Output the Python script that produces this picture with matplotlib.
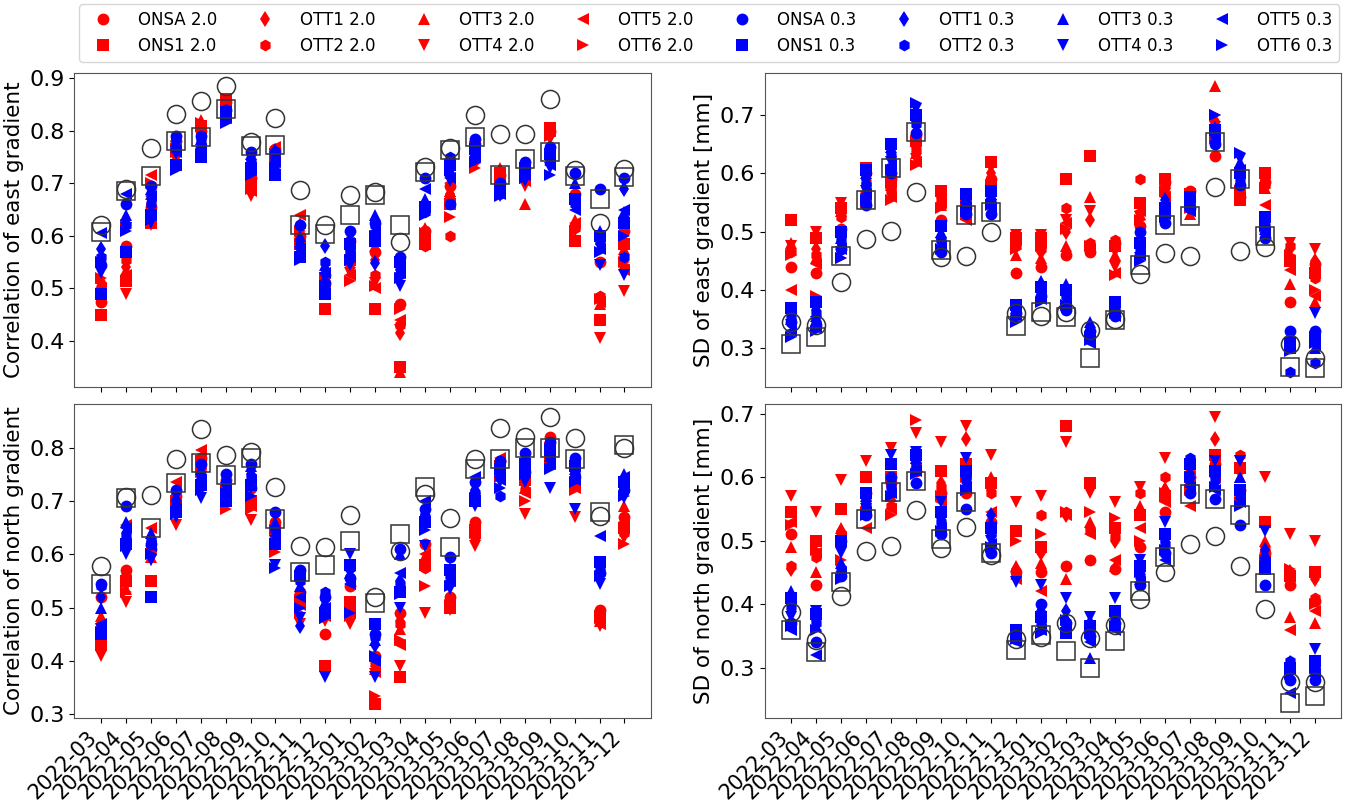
import matplotlib
matplotlib.use("Agg")
import matplotlib.pyplot as plt
import numpy as np

months = ["2022-03", "2022-04", "2022-05", "2022-06", "2022-07", "2022-08",
          "2022-09", "2022-10", "2022-11", "2022-12", "2023-01", "2023-02",
          "2023-03", "2023-04", "2023-05", "2023-06", "2023-07", "2023-08",
          "2023-09", "2023-10", "2023-11", "2023-12"]
stations = ["ONSA", "ONS1", "OTT1", "OTT2", "OTT3", "OTT4", "OTT5", "OTT6"]
markers = ["o", "s", "d", "h", "^", "v", "<", ">"]

# rows = months, columns = stations (same order as `stations`)
east_corr_20 = [
    [.475, .45, .51, .50, .52, .49, .50, .52],
    [.58, .515, .54, .555, .535, .49, .525, .62],
    [.655, .625, .66, .64, .68, .62, .715, .70],
    [.78, .765, .77, .775, .79, .745, .775, .76],
    [.80, .81, .805, .795, .82, .79, .80, .815],
    [.855, .86, .85, .85, .855, .84, .845, .84],
    [.71, .70, .695, .69, .705, .675, .685, .69],
    [.765, .755, .745, .75, .76, .735, .77, .74],
    [.60, .585, .60, .595, .625, .59, .64, .61],
    [.525, .46, .53, .51, .535, .515, .50, .52],
    [.59, .555, .54, .575, .60, .53, .525, .515],
    [.57, .46, .555, .525, .58, .51, .50, .505],
    [.47, .35, .415, .43, .34, .42, .44, .46],
    [.61, .585, .595, .58, .615, .60, .60, .605],
    [.695, .66, .68, .60, .685, .665, .70, .635],
    [.775, .77, .75, .745, .765, .735, .755, .73],
    [.715, .72, .71, .705, .73, .70, .71, .705],
    [.73, .72, .715, .72, .66, .695, .705, .71],
    [.80, .805, .79, .795, .805, .785, .80, .79],
    [.68, .59, .62, .615, .63, .61, .625, .61],
    [.55, .44, .48, .485, .47, .405, .475, .48],
    [.61, .585, .565, .54, .575, .495, .535, .55],
]
east_corr_03 = [
    [.545, .49, .575, .56, .55, .53, .605, .55],
    [.66, .57, .625, .62, .64, .615, .68, .61],
    [.695, .64, .67, .66, .69, .625, .675, .63],
    [.79, .735, .77, .785, .78, .755, .76, .725],
    [.79, .75, .77, .78, .785, .76, .765, .755],
    [.84, .835, .83, .835, .84, .82, .825, .815],
    [.76, .73, .745, .74, .755, .72, .725, .715],
    [.76, .715, .75, .745, .765, .725, .74, .73],
    [.62, .56, .585, .565, .60, .57, .575, .555],
    [.51, .49, .58, .55, .545, .52, .53, .505],
    [.61, .585, .565, .575, .595, .545, .56, .555],
    [.625, .59, .548, .62, .64, .595, .61, .60],
    [.56, .55, .535, .545, .55, .505, .53, .52],
    [.71, .655, .66, .645, .67, .65, .69, .64],
    [.66, .735, .72, .75, .74, .705, .71, .725],
    [.785, .765, .76, .755, .78, .745, .75, .74],
    [.70, .69, .685, .68, .695, .675, .68, .675],
    [.74, .73, .725, .72, .735, .705, .715, .71],
    [.77, .755, .745, .74, .76, .73, .735, .715],
    [.72, .67, .665, .66, .70, .66, .65, .67],
    [.69, .60, .585, .59, .61, .545, .575, .57],
    [.71, .625, .69, .56, .645, .525, .65, .60],
]
east_corr_circle = [.621, .689, .767, .833, .857, .886, .779, .825, .687, .621, .678,
                    .684, .589, .732, .768, .831, .794, .794, .860, .725, .624, .728]
east_corr_square = [.607, .685, .714, .780, .789, .842, .771, .773, .621, .603, .639,
                    .678, .621, .722, .763, .789, .716, .746, .760, .714, .671, .712]

east_sd_20 = [
    [.44, .52, .47, .465, .48, .475, .40, .46],
    [.43, .49, .47, .46, .455, .50, .445, .39],
    [.505, .54, .53, .525, .535, .55, .50, .455],
    [.60, .61, .59, .585, .575, .56, .555, .55],
    [.59, .585, .575, .57, .58, .565, .56, .555],
    [.665, .655, .645, .64, .635, .625, .62, .615],
    [.52, .57, .56, .555, .545, .565, .55, .54],
    [.54, .55, .545, .535, .53, .525, .52, .53],
    [.59, .62, .60, .585, .595, .61, .575, .58],
    [.43, .49, .48, .475, .46, .495, .485, .47],
    [.44, .49, .465, .47, .455, .495, .48, .475],
    [.46, .59, .50, .54, .475, .52, .515, .505],
    [.465, .63, .52, .48, .56, .535, .47, .475],
    [.48, .475, .47, .485, .46, .44, .43, .425],
    [.51, .55, .545, .59, .53, .525, .535, .52],
    [.585, .59, .575, .58, .57, .565, .56, .57],
    [.57, .565, .555, .55, .53, .545, .535, .54],
    [.63, .66, .69, .665, .75, .68, .67, .70],
    [.56, .555, .57, .575, .58, .565, .56, .57],
    [.585, .60, .59, .58, .575, .595, .545, .575],
    [.38, .45, .47, .475, .41, .48, .435, .46],
    [.445, .43, .45, .42, .38, .47, .39, .40],
]
east_sd_03 = [
    [.345, .37, .36, .355, .35, .34, .33, .32],
    [.34, .38, .365, .36, .355, .345, .335, .33],
    [.47, .50, .48, .485, .49, .465, .47, .455],
    [.545, .605, .59, .58, .60, .57, .565, .555],
    [.60, .65, .635, .63, .645, .62, .615, .605],
    [.67, .70, .69, .685, .705, .71, .695, .72],
    [.465, .51, .49, .485, .50, .48, .475, .47],
    [.53, .565, .55, .545, .56, .54, .54, .535],
    [.53, .57, .555, .55, .565, .545, .54, .545],
    [.36, .375, .37, .365, .365, .35, .355, .345],
    [.39, .405, .41, .40, .415, .395, .385, .38],
    [.365, .40, .395, .39, .41, .385, .38, .375],
    [.33, .32, .325, .32, .345, .315, .31, .315],
    [.355, .38, .37, .365, .375, .36, .355, .36],
    [.50, .48, .475, .47, .465, .455, .46, .45],
    [.515, .54, .555, .545, .55, .535, .53, .525],
    [.54, .56, .555, .55, .545, .54, .535, .55],
    [.65, .675, .67, .665, .68, .66, .655, .70],
    [.58, .60, .595, .59, .62, .625, .605, .635],
    [.49, .525, .515, .51, .505, .52, .50, .51],
    [.33, .31, .305, .26, .30, .305, .30, .295],
    [.33, .32, .31, .275, .30, .36, .305, .31],
]
east_sd_circle = [.345, .340, .413, .487, .502, .568, .457, .458, .499, .361, .355,
                  .363, .331, .351, .427, .464, .458, .576, .467, .474, .308, .283]
east_sd_square = [.308, .320, .458, .555, .609, .671, .468, .528, .534, .339, .363,
                  .354, .283, .349, .443, .512, .527, .654, .591, .493, .268, .267]

north_corr_20 = [
    [.52, .43, .465, .47, .485, .41, .44, .45],
    [.57, .55, .545, .56, .535, .51, .655, .53],
    [.61, .55, .60, .605, .595, .59, .65, .60],
    [.71, .70, .69, .685, .695, .655, .735, .68],
    [.78, .775, .765, .76, .77, .75, .795, .755],
    [.74, .72, .71, .715, .725, .705, .70, .685],
    [.725, .70, .705, .695, .71, .665, .69, .685],
    [.66, .645, .63, .625, .64, .615, .635, .605],
    [.53, .515, .52, .51, .525, .47, .505, .49],
    [.45, .39, .50, .49, .505, .475, .485, .48],
    [.54, .51, .50, .505, .495, .47, .49, .485],
    [.41, .32, .39, .40, .385, .375, .38, .335],
    [.49, .37, .475, .47, .46, .39, .43, .44],
    [.62, .58, .59, .575, .595, .49, .60, .54],
    [.52, .50, .51, .505, .515, .495, .51, .505],
    [.66, .645, .65, .635, .655, .615, .64, .64],
    [.775, .765, .76, .755, .77, .75, .78, .745],
    [.755, .74, .73, .72, .725, .675, .715, .70],
    [.82, .80, .795, .79, .785, .77, .78, .775],
    [.745, .73, .74, .735, .75, .67, .725, .72],
    [.495, .485, .48, .49, .475, .465, .47, .48],
    [.67, .65, .655, .64, .69, .63, .66, .62],
]
north_corr_03 = [
    [.545, .45, .52, .54, .50, .46, .47, .455],
    [.69, .62, .64, .635, .66, .60, .65, .615],
    [.62, .52, .63, .625, .64, .59, .615, .60],
    [.72, .68, .70, .69, .71, .67, .685, .675],
    [.77, .73, .75, .745, .76, .705, .74, .72],
    [.75, .70, .73, .735, .745, .71, .72, .715],
    [.77, .73, .75, .745, .765, .725, .74, .71],
    [.68, .62, .65, .645, .66, .58, .635, .575],
    [.57, .56, .465, .55, .54, .48, .52, .50],
    [.52, .49, .515, .53, .51, .37, .50, .48],
    [.555, .58, .57, .575, .565, .60, .545, .49],
    [.45, .47, .43, .445, .44, .37, .40, .41],
    [.61, .53, .55, .545, .60, .50, .565, .525],
    [.685, .66, .675, .67, .68, .615, .70, .645],
    [.595, .57, .565, .56, .575, .535, .55, .54],
    [.735, .70, .72, .715, .725, .69, .745, .705],
    [.775, .76, .745, .71, .755, .735, .74, .725],
    [.79, .77, .76, .765, .775, .735, .755, .75],
    [.81, .795, .79, .78, .785, .725, .77, .76],
    [.78, .765, .755, .75, .76, .685, .74, .735],
    [.565, .585, .58, .575, .57, .545, .635, .56],
    [.72, .735, .73, .725, .75, .705, .745, .71],
]
north_corr_circle = [.578, .708, .711, .779, .836, .787, .792, .727, .616, .614, .674,
                     .520, .607, .714, .669, .779, .838, .821, .857, .819, .672, .800]
north_corr_square = [.545, .705, .650, .733, .771, .749, .780, .667, .567, .580, .626,
                     .508, .638, .727, .614, .761, .779, .799, .799, .779, .680, .805]

north_sd_20 = [
    [.51, .545, .455, .46, .49, .57, .53, .525],
    [.43, .50, .48, .475, .45, .545, .48, .485],
    [.50, .55, .515, .51, .52, .595, .505, .47],
    [.575, .60, .57, .565, .56, .625, .52, .545],
    [.59, .60, .585, .555, .57, .645, .55, .54],
    [.61, .635, .625, .62, .63, .67, .615, .69],
    [.575, .61, .59, .585, .58, .655, .56, .57],
    [.575, .62, .66, .61, .625, .68, .605, .60],
    [.53, .59, .58, .575, .60, .635, .545, .59],
    [.45, .515, .455, .445, .46, .56, .44, .50],
    [.45, .49, .48, .54, .465, .57, .42, .51],
    [.46, .68, .54, .545, .44, .655, .54, .545],
    [.47, .59, .52, .515, .53, .575, .51, .545],
    [.455, .52, .50, .505, .46, .56, .47, .535],
    [.49, .54, .545, .575, .555, .585, .52, .50],
    [.545, .57, .58, .60, .585, .63, .56, .575],
    [.60, .60, .585, .61, .59, .615, .555, .58],
    [.62, .635, .66, .625, .615, .695, .60, .61],
    [.58, .615, .61, .635, .60, .625, .575, .56],
    [.48, .53, .49, .485, .50, .60, .475, .47],
    [.43, .445, .45, .44, .38, .51, .36, .455],
    [.405, .45, .44, .41, .37, .50, .39, .40],
]
north_sd_03 = [
    [.37, .41, .40, .395, .42, .38, .36, .365],
    [.34, .385, .375, .37, .365, .39, .32, .36],
    [.445, .50, .46, .455, .465, .48, .45, .44],
    [.54, .575, .56, .555, .57, .55, .545, .54],
    [.60, .62, .59, .585, .58, .635, .575, .57],
    [.59, .635, .62, .615, .63, .64, .61, .605],
    [.51, .545, .535, .53, .525, .56, .52, .515],
    [.55, .61, .60, .595, .59, .63, .585, .58],
    [.48, .52, .54, .51, .53, .50, .495, .49],
    [.345, .36, .355, .35, .35, .435, .34, .345],
    [.40, .38, .39, .37, .365, .43, .36, .355],
    [.37, .355, .39, .365, .38, .41, .36, .375],
    [.35, .365, .37, .36, .315, .38, .34, .355],
    [.37, .39, .385, .38, .375, .41, .36, .365],
    [.43, .46, .45, .445, .44, .47, .435, .45],
    [.48, .51, .50, .495, .49, .53, .47, .485],
    [.575, .62, .605, .63, .595, .59, .585, .60],
    [.565, .61, .60, .595, .59, .625, .58, .585],
    [.525, .58, .575, .57, .60, .625, .56, .555],
    [.43, .455, .485, .47, .48, .515, .465, .46],
    [.28, .30, .305, .31, .31, .295, .26, .29],
    [.28, .31, .305, .30, .295, .33, .29, .30],
]
north_sd_circle = [.388, .343, .413, .484, .491, .548, .489, .521, .477, .346, .349,
                   .370, .347, .368, .408, .451, .495, .508, .460, .393, .278, .278]
north_sd_square = [.359, .324, .435, .534, .577, .594, .503, .561, .480, .328, .351,
                   .326, .299, .342, .420, .474, .574, .566, .540, .433, .244, .256]

panels = [
    (east_corr_20, east_corr_03, east_corr_circle, east_corr_square,
     "Correlation of east gradient", (0.3124, 0.9107), [0.4, 0.5, 0.6, 0.7, 0.8, 0.9]),
    (east_sd_20, east_sd_03, east_sd_circle, east_sd_square,
     "SD of east gradient [mm]", (0.234, 0.7726), [0.3, 0.4, 0.5, 0.6, 0.7]),
    (north_corr_20, north_corr_03, north_corr_circle, north_corr_square,
     "Correlation of north gradient", (0.2936, 0.883), [0.3, 0.4, 0.5, 0.6, 0.7, 0.8]),
    (north_sd_20, north_sd_03, north_sd_circle, north_sd_square,
     "SD of north gradient [mm]", (0.2214, 0.7157), [0.3, 0.4, 0.5, 0.6, 0.7]),
]

fig, axes = plt.subplots(2, 2, figsize=(13.47, 8.01), dpi=100, sharex=True)
plt.subplots_adjust(left=0.0552, right=0.9955, top=0.9092, bottom=0.104,
                    wspace=0.198, hspace=0.053)

x = np.arange(len(months))
for ax, (v20, v03, circ, sq, ylab, ylim, yticks) in zip(axes.flat, panels):
    v20 = np.array(v20)
    v03 = np.array(v03)
    for j, st in enumerate(stations):
        ax.plot(x, v20[:, j], linestyle="none", marker=markers[j], color="red",
                markersize=8.5, markeredgewidth=0, label=st + " 2.0")
    for j, st in enumerate(stations):
        ax.plot(x, v03[:, j], linestyle="none", marker=markers[j], color="blue",
                markersize=8.5, markeredgewidth=0, label=st + " 0.3")
    ax.plot(x, circ, linestyle="none", marker="o", markersize=13,
            markerfacecolor="none", markeredgecolor="#333333", markeredgewidth=1.1)
    ax.plot(x, sq, linestyle="none", marker="s", markersize=13,
            markerfacecolor="none", markeredgecolor="#333333", markeredgewidth=1.1)
    ax.set_ylim(*ylim)
    ax.set_yticks(yticks)
    ax.set_ylabel(ylab, fontsize=15.5)
    ax.tick_params(labelsize=16)
    for sp in ax.spines.values():
        sp.set_color("#555555")

axes[1, 0].set_xlim(-1.07, 22.05)
for ax in axes[1]:
    ax.set_xticks(x)
    ax.set_xticklabels(months, rotation=45, ha="right", fontsize=15)

handles, labels = axes[0, 0].get_legend_handles_labels()
fig.legend(handles[:16], labels[:16], loc="upper center", ncol=8,
           bbox_to_anchor=(0.5264, 1.0), borderaxespad=0.25, fontsize=12,
           columnspacing=1.9, handletextpad=1.1)

plt.savefig("out.png", dpi=100)
